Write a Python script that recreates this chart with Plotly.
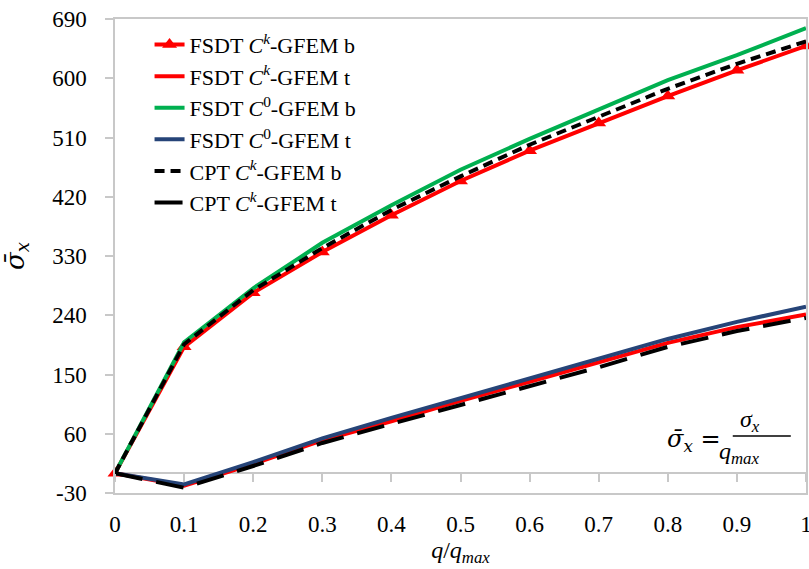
import plotly.graph_objects as go

q = [0, 0.1, 0.2, 0.3, 0.4, 0.5, 0.6, 0.7, 0.8, 0.9, 1.0]
fsdt_ck_b = [0, 192, 274, 336, 392, 444, 490, 532, 573, 612, 649]
fsdt_ck_t = [0, -19, 14, 50, 79, 110, 139, 169, 198, 222, 241]
fsdt_c0_b = [0, 199, 281, 350, 407, 461, 508, 553, 597, 635, 676]
fsdt_c0_t = [0, -17, 17, 53, 84, 114, 145, 175, 204, 230, 253]
cpt_ck_b = [0, 196, 278, 342, 400, 451, 499, 541, 584, 622, 656]
cpt_ck_t = [0, -22, 11, 46, 75, 104, 132, 161, 192, 216, 236]

names = [
    "FSDT <i>C</i><sup><i>k</i></sup>-GFEM b",
    "FSDT <i>C</i><sup><i>k</i></sup>-GFEM t",
    "FSDT <i>C</i><sup>0</sup>-GFEM b",
    "FSDT <i>C</i><sup>0</sup>-GFEM t",
    "CPT <i>C</i><sup><i>k</i></sup>-GFEM b",
    "CPT <i>C</i><sup><i>k</i></sup>-GFEM t",
]

y_ticks = [-30, 60, 150, 240, 330, 420, 510, 600, 690]
y_ticktext = ["-30", "60", "150", "240", "330", "420", "510", "600", "690"]
x_ticks = [0, 0.1, 0.2, 0.3, 0.4, 0.5, 0.6, 0.7, 0.8, 0.9, 1.0]
x_ticktext = ["0", "0.1", "0.2", "0.3", "0.4", "0.5", "0.6", "0.7", "0.8", "0.9", "1"]

FONT = "Liberation Serif, Times New Roman, serif"
MATH = "DejaVu Serif, serif"
GRAY = "#C8C8C8"

fig = go.Figure()
fig.add_trace(go.Scatter(x=q, y=fsdt_ck_b, name=names[0], mode="lines+markers",
                         line=dict(color="#FF0000", width=4),
                         marker=dict(symbol="triangle-up", size=13, color="#FF0000"),
                         cliponaxis=False))
fig.add_trace(go.Scatter(x=q, y=fsdt_ck_t, name=names[1], mode="lines",
                         line=dict(color="#FF0000", width=4)))
fig.add_trace(go.Scatter(x=q, y=fsdt_c0_b, name=names[2], mode="lines",
                         line=dict(color="#00B050", width=4)))
fig.add_trace(go.Scatter(x=q, y=fsdt_c0_t, name=names[3], mode="lines",
                         line=dict(color="#264478", width=4)))
fig.add_trace(go.Scatter(x=q, y=cpt_ck_b, name=names[4], mode="lines",
                         line=dict(color="#000000", width=4, dash="10px,6px")))
fig.add_trace(go.Scatter(x=q, y=cpt_ck_t, name=names[5], mode="lines",
                         line=dict(color="#000000", width=4, dash="28px,14px")))
# invisible trace carrying the tick axis drawn along zero
fig.add_trace(go.Scatter(x=[0, 1], y=[0, 0], xaxis="x2", mode="lines",
                         line=dict(width=0), showlegend=False, hoverinfo="skip",
                         opacity=0))

fig.update_layout(
    width=809, height=569,
    margin=dict(l=115, r=3, t=19, b=76),
    paper_bgcolor="white", plot_bgcolor="white",
    font=dict(family=FONT, size=22, color="black"),
    showlegend=True,
    legend=dict(x=0.05, y=0.99, xanchor="left", yanchor="top",
                bgcolor="rgba(0,0,0,0)", font=dict(family=FONT, size=22),
                tracegroupgap=0),
    xaxis=dict(range=[0, 1], tickvals=x_ticks, ticktext=x_ticktext,
               automargin=False, ticklabeloverflow="allow",
               showgrid=False, zeroline=False, showline=True, linecolor=GRAY,
               linewidth=1.5, mirror=True, ticks="outside", ticklen=10,
               tickcolor="rgba(0,0,0,0)",
               tickfont=dict(family=FONT, size=23),
               title=dict(text="<i>q</i>/<i>q</i><sub><i>max</i></sub>",
                          font=dict(family=FONT, size=24), standoff=0)),
    xaxis2=dict(range=[0, 1], overlaying="x", anchor="free",
                position=30 / 720, tickvals=x_ticks, showticklabels=False,
                ticks="outside", ticklen=8, tickcolor=GRAY, tickwidth=1.5,
                showline=False, showgrid=False, zeroline=False),
    yaxis=dict(range=[-30, 690], tickvals=y_ticks, ticktext=y_ticktext,
               automargin=False, ticklabeloverflow="allow",
               showgrid=False, zeroline=True, zerolinecolor=GRAY,
               zerolinewidth=1.5, showline=True, linecolor=GRAY, linewidth=1.5,
               mirror=True, ticks="outside", ticklen=8, tickcolor=GRAY,
               tickwidth=1.5, ticklabelstandoff=14,
               tickfont=dict(family=FONT, size=23),
               title=dict(text="<i>σ\u0304</i><sub><i>x</i></sub>",
                          font=dict(family=MATH, size=26), standoff=28)),
)

# formula annotation
fig.add_annotation(xref="paper", yref="paper", x=0.88, y=0.074,
                   text="<i>σ\u0304</i><sub><i>x</i></sub> =", showarrow=False,
                   font=dict(family=MATH, size=24))
fig.add_annotation(xref="paper", yref="paper", x=0.936, y=0.116,
                   text="<i>σ</i><sub><i>x</i></sub>", showarrow=False,
                   font=dict(family=FONT, size=24))
fig.add_annotation(xref="paper", yref="paper", x=0.936, y=0.048,
                   text="<i>q</i><sub><i>max</i></sub>", showarrow=False,
                   font=dict(family=FONT, size=24))
fig.add_shape(type="line", xref="paper", yref="paper", x0=0.894, x1=0.978,
              y0=0.12, y1=0.12, line=dict(color="black", width=1.5))

# remove the browser's default body margin so the figure fills the window
fig.write_html("out.html",
               config={"displayModeBar": False},
               post_script="document.body.style.margin='0';"
                           "document.body.style.overflow='hidden';")
